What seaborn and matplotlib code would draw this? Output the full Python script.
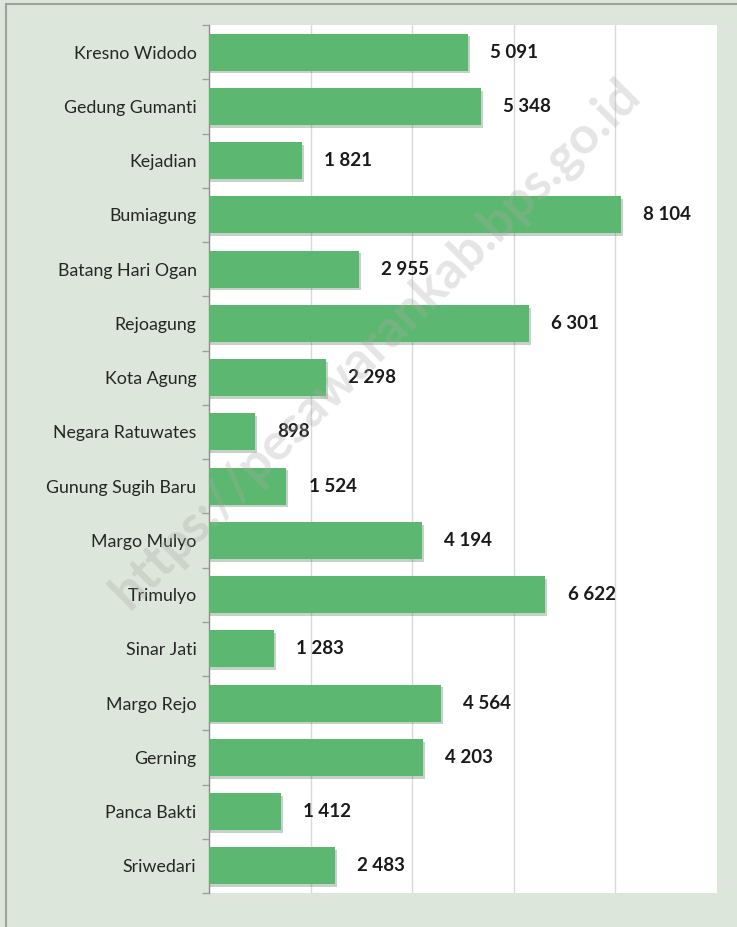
import numpy as np
import pandas as pd
import matplotlib
matplotlib.use("Agg")
from matplotlib import pyplot as plt
from matplotlib.patches import Rectangle
import seaborn as sns

villages = [
    "Kresno Widodo", "Gedung Gumanti", "Kejadian", "Bumiagung",
    "Batang Hari Ogan", "Rejoagung", "Kota Agung", "Negara Ratuwates",
    "Gunung Sugih Baru", "Margo Mulyo", "Trimulyo", "Sinar Jati",
    "Margo Rejo", "Gerning", "Panca Bakti", "Sriwedari",
]
population = [5091, 5348, 1821, 8104, 2955, 6301, 2298, 898,
              1524, 4194, 6622, 1283, 4564, 4203, 1412, 2483]

bg_color = "#dde6da"
bar_color = "#5cb870"

sns.set_theme(style="white")
plt.rcParams["font.family"] = ["Lato", "DejaVu Sans"]

df = pd.DataFrame({"desa": villages, "jumlah": population})

fig = plt.figure(figsize=(7.37, 9.27), dpi=100)
fig.patch.set_facecolor(bg_color)
# outer frame line (top and left)
fig.add_artist(Rectangle((6 / 737, -0.05), 1.2, 1 - 4 / 927 + 0.05,
                         transform=fig.transFigure, facecolor="none",
                         edgecolor="#a0a0a0", linewidth=1.5))

ax = fig.add_axes([209 / 737, 1 - 893 / 927, 508 / 737, 868 / 927])
ax.set_facecolor("white")

# soft shadow under the bars
ax.barh(np.arange(len(population)) + 0.05, np.array(population) + 40,
        height=0.68, color="#3f6b4a", alpha=0.3, zorder=2, linewidth=0)

sns.barplot(data=df, x="jumlah", y="desa", orient="h", color=bar_color,
            saturation=1, width=0.68, linewidth=0, ax=ax, zorder=3)

ax.bar_label(ax.containers[-1],
             labels=[f"{v:,}".replace(",", " ") for v in population],
             padding=16, fontsize=13.5, fontweight="bold", color="#1a1a1a")

ax.set_xlim(0, 10000)
ax.set_ylim(15.5, -0.5)
ax.set_xticks([2000, 4000, 6000, 8000])
ax.xaxis.grid(True, color="#d9d9d9", linewidth=1)
ax.set_axisbelow(True)
ax.tick_params(axis="x", length=0, labelbottom=False)
ax.set_xlabel("")
ax.set_ylabel("")

ax.set_yticks(np.arange(-0.5, 16, 1), minor=True)
ax.tick_params(axis="y", which="major", length=0, pad=9, labelsize=12.8,
               labelcolor="#262626")
ax.tick_params(axis="y", which="minor", length=5, width=1, color="#a0a0a0",
               left=True)
for s in ["top", "right", "bottom"]:
    ax.spines[s].set_visible(False)
ax.spines["left"].set_color("#8c8c8c")
ax.spines["left"].set_linewidth(1)

# watermark
fig.text(0.51, 0.63, "https://pesawarankab.bps.go.id", rotation=45,
         fontsize=37, fontweight="bold", color="#a8a8a8", alpha=0.3,
         ha="center", va="center", zorder=10)

fig.savefig("out.png", dpi=100, facecolor=bg_color)
